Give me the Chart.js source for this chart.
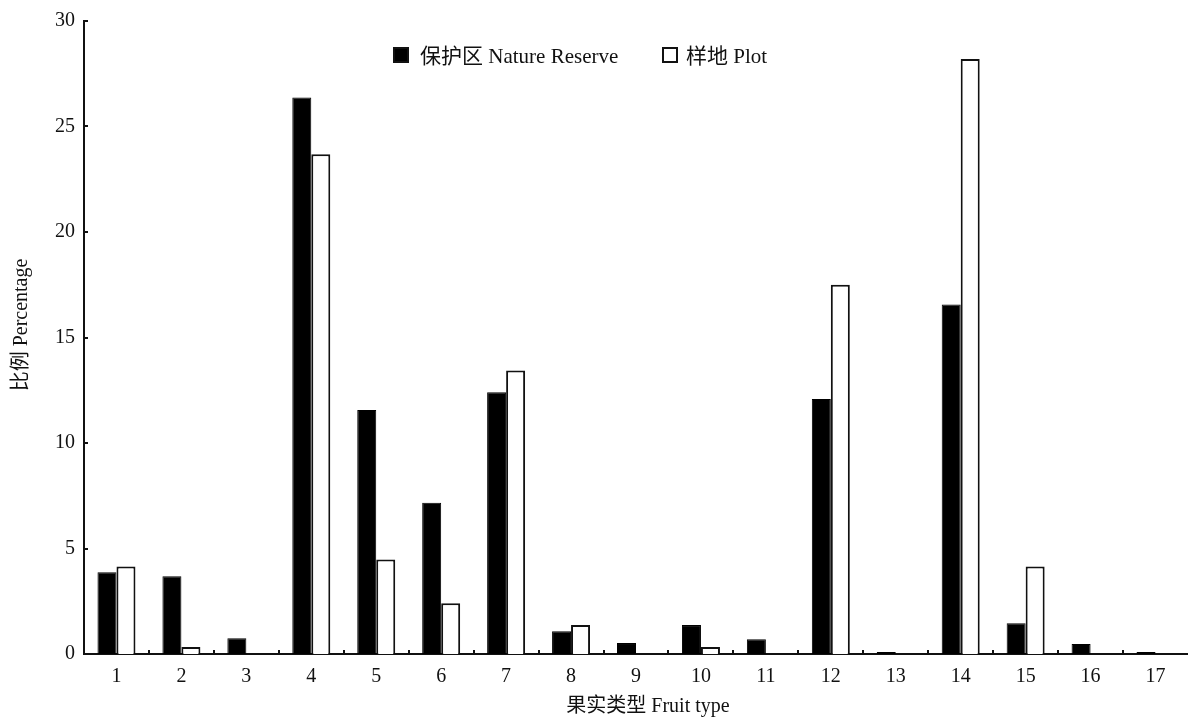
<!DOCTYPE html>
<html>
<head>
<meta charset="utf-8">
<script src="https://cdn.jsdelivr.net/npm/chart.js@4.4.1/dist/chart.umd.min.js"></script>
<style>
  html, body { margin: 0; padding: 0; background: #fff; }
  #wrap { width: 1188px; height: 722px; }
</style>
</head>
<body>
<div id="wrap"><canvas id="c" width="1188" height="722"></canvas></div>
<script>
// Fruit type categories 1–17
const fruitTypes = ['1','2','3','4','5','6','7','8','9','10','11','12','13','14','15','16','17'];
// Share of each fruit type (%)
const natureReserve = [3.87, 3.68, 0.75, 26.37, 11.56, 7.17, 12.4, 1.08, 0.52, 1.37, 0.7, 12.08, 0.1, 16.56, 1.46, 0.47, 0.1];
const plot = [4.15, 0.33, 0, 23.68, 4.48, 2.41, 13.44, 1.37, 0, 0.33, 0, 17.5, 0, 28.2, 4.15, 0, 0];
const seriesNames = ['保护区 Nature Reserve', '样地 Plot'];
const yTicks = [0, 5, 10, 15, 20, 25, 30];
const xTitle = '果实类型 Fruit type';
const yTitle = '比例 Percentage';

const FONT = '"Liberation Serif", "Noto Sans CJK SC", serif';
const INK = '#111';

// Short inward tick marks on both axes
const innerTicks = {
  id: 'innerTicks',
  afterDraw(chart) {
    const { ctx, chartArea: a } = chart;
    const x = chart.scales.x, y = chart.scales.y;
    ctx.save();
    ctx.strokeStyle = INK;
    ctx.lineWidth = 2;
    ctx.beginPath();
    yTicks.forEach(v => {
      const py = Math.round(y.getPixelForValue(v));
      ctx.moveTo(a.left, py);
      ctx.lineTo(a.left + 4, py);
    });
    for (let i = 0; i < fruitTypes.length - 1; i++) {
      const px = Math.round((x.getPixelForValue(i) + x.getPixelForValue(i + 1)) / 2);
      ctx.moveTo(px, a.bottom);
      ctx.lineTo(px, a.bottom - 4);
    }
    ctx.stroke();
    ctx.restore();
  }
};

// Axis titles
const axisTitles = {
  id: 'axisTitles',
  afterDraw(chart) {
    const { ctx } = chart;
    ctx.save();
    ctx.font = '20px ' + FONT;
    ctx.fillStyle = INK;
    ctx.textAlign = 'center';
    ctx.textBaseline = 'middle';
    ctx.fillText(xTitle, 648, 707);
    ctx.translate(22, 325);
    ctx.rotate(-Math.PI / 2);
    ctx.fillText(yTitle, 0, 0);
    ctx.restore();
  }
};

// Legend drawn inside the plot area
const inlineLegend = {
  id: 'inlineLegend',
  afterDraw(chart) {
    const { ctx } = chart;
    const spots = [{ x: 393, text: 420 }, { x: 662, text: 686 }];
    ctx.save();
    ctx.font = '21px ' + FONT;
    ctx.textBaseline = 'alphabetic';
    chart.data.datasets.forEach((ds, i) => {
      const s = spots[i];
      ctx.fillStyle = ds.backgroundColor;
      ctx.fillRect(s.x, 47, 16, 16);
      ctx.strokeStyle = INK;
      ctx.lineWidth = 2;
      ctx.strokeRect(s.x + 1, 48, 14, 14);
      ctx.fillStyle = INK;
      ctx.fillText(ds.label, s.text, 63);
    });
    ctx.restore();
  }
};

new Chart(document.getElementById('c'), {
  type: 'bar',
  data: {
    labels: fruitTypes,
    datasets: [
      { label: seriesNames[0], data: natureReserve, backgroundColor: '#000', borderColor: '#000', borderWidth: 1 },
      { label: seriesNames[1], data: plot, backgroundColor: '#fff', borderColor: INK, borderWidth: 2 }
    ]
  },
  options: {
    responsive: false,
    animation: false,
    devicePixelRatio: 1,
    layout: { padding: { top: 18, right: -1, bottom: 0, left: 0 } },
    datasets: { bar: { categoryPercentage: 0.585, barPercentage: 1.0 } },
    plugins: { legend: { display: false }, tooltip: { enabled: false } },
    scales: {
      x: {
        grid: { display: false, drawTicks: false },
        border: { display: true, color: INK, width: 2 },
        ticks: { color: INK, font: { family: FONT, size: 20 }, padding: 11 },
        title: { display: false, text: xTitle },
        afterFit(s) { s.height = 68; }
      },
      y: {
        min: 0, max: 30,
        grid: { display: false, drawTicks: false },
        border: { display: true, color: INK, width: 2 },
        afterBuildTicks(s) { s.ticks = yTicks.map(v => ({ value: v })); },
        ticks: { color: INK, font: { family: FONT, size: 20 }, padding: 9 },
        title: { display: false, text: yTitle },
        afterFit(s) { s.width = 84; }
      }
    }
  },
  plugins: [innerTicks, axisTitles, inlineLegend]
});
</script>
</body>
</html>
